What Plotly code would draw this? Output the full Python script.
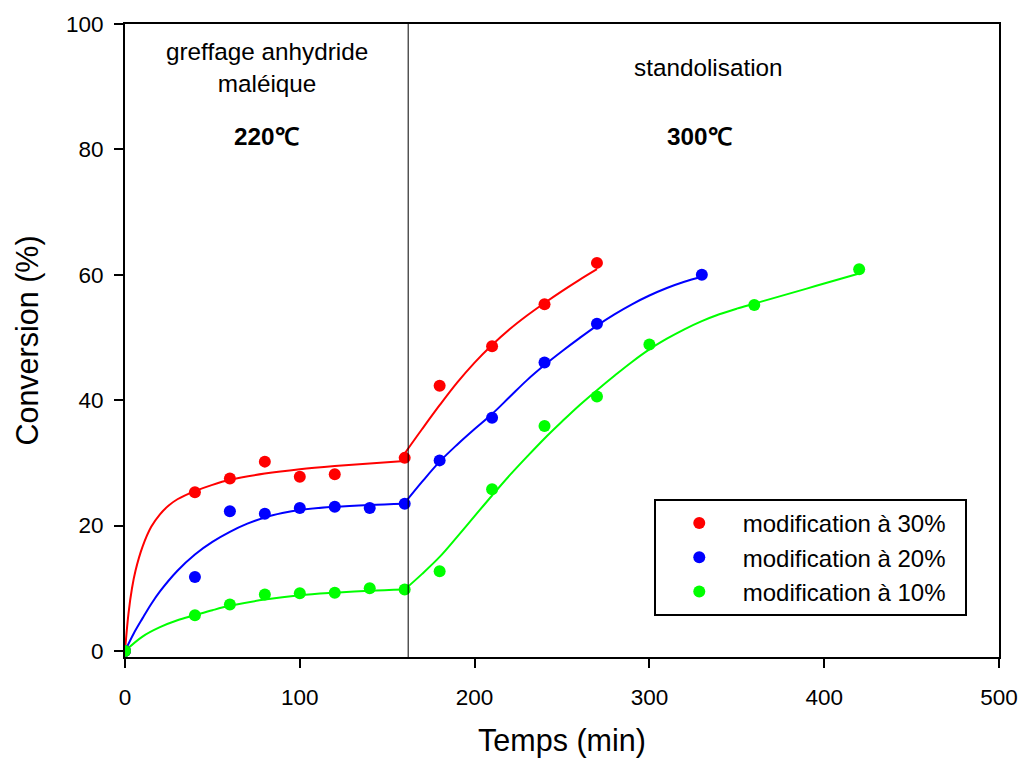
import plotly.graph_objects as go

# measured points (min, %)
t30 = [0, 40, 60, 80, 100, 120, 160, 180, 210, 240, 270]
c30 = [0, 25.3, 27.5, 30.2, 27.8, 28.2, 30.8, 42.3, 48.6, 55.3, 61.9]
t20 = [0, 40, 60, 80, 100, 120, 140, 160, 180, 210, 240, 270, 330]
c20 = [0, 11.8, 22.3, 21.9, 22.8, 23.0, 22.8, 23.5, 30.4, 37.2, 46.0, 52.2, 60.0]
t10 = [0, 40, 60, 80, 100, 120, 140, 160, 180, 210, 240, 270, 300, 360, 420]
c10 = [0, 5.7, 7.4, 9.0, 9.2, 9.3, 10.0, 9.8, 12.7, 25.8, 35.9, 40.6, 48.9, 55.2, 60.9]

# fitted curves, grafting stage then standolisation stage
fit30_a_t = [0, 2, 4, 6, 10, 15, 20, 25, 30, 40, 50, 60, 80, 100, 120, 140, 160]
fit30_a_c = [0, 6.0, 10.0, 12.8, 16.6, 19.8, 21.8, 23.2, 24.2, 25.5, 26.5, 27.3, 28.3, 29.0, 29.5, 29.9, 30.3]
fit30_b_t = [160, 170, 180, 190, 200, 210, 220, 230, 240, 250, 260, 270]
fit30_b_c = [31.5, 35.4, 39.2, 42.8, 46.0, 48.8, 51.3, 53.5, 55.5, 57.4, 59.2, 60.9]

fit20_a_t = [0, 5, 10, 15, 20, 30, 40, 50, 60, 70, 80, 90, 100, 120, 140, 160]
fit20_a_c = [0, 2.8, 5.2, 7.5, 9.5, 12.8, 15.4, 17.4, 19.0, 20.3, 21.3, 22.0, 22.5, 23.0, 23.3, 23.5]
fit20_b_t = [160, 170, 180, 190, 200, 210, 220, 230, 240, 250, 260, 270, 280, 290, 300, 310, 320, 330]
fit20_b_c = [23.6, 27.0, 30.2, 32.9, 35.4, 37.8, 40.5, 43.2, 45.6, 47.8, 49.9, 51.9, 53.7, 55.3, 56.7, 57.9, 58.9, 59.7]

fit10_a_t = [0, 10, 20, 30, 40, 50, 60, 80, 100, 120, 140, 160]
fit10_a_c = [0, 2.3, 3.8, 4.9, 5.7, 6.5, 7.2, 8.2, 8.9, 9.3, 9.6, 9.8]
fit10_b_t = [160, 170, 180, 190, 200, 210, 220, 230, 240, 250, 260, 270, 280, 290, 300,
             310, 320, 330, 340, 350, 360, 370, 380, 390, 400, 410, 420]
fit10_b_c = [9.8, 12.3, 15.0, 18.2, 21.5, 24.8, 28.0, 31.0, 33.9, 36.6, 39.2, 41.6, 43.9, 46.1, 48.1,
             49.8, 51.3, 52.6, 53.7, 54.6, 55.4, 56.2, 57.0, 57.8, 58.6, 59.4, 60.2]

series = [
    ("modification à 30%", "#ff0000", t30, c30, [(fit30_a_t, fit30_a_c), (fit30_b_t, fit30_b_c)]),
    ("modification à 20%", "#0000ff", t20, c20, [(fit20_a_t, fit20_a_c), (fit20_b_t, fit20_b_c)]),
    ("modification à 10%", "#00ff00", t10, c10, [(fit10_a_t, fit10_a_c), (fit10_b_t, fit10_b_c)]),
]

FONT = "Arial, Liberation Sans, sans-serif"
NBSP = "\u00a0"

fig = go.Figure()
for name, color, t, c, fits in series:
    for ft, fc in fits:
        fig.add_trace(go.Scatter(x=ft, y=fc, mode="lines", line=dict(color=color, width=2, shape="spline"),
                                 showlegend=False, hoverinfo="skip"))
for name, color, t, c, fits in series:
    fig.add_trace(go.Scatter(x=t, y=c, mode="markers", name=name + NBSP * 2,
                             marker=dict(color=color, size=12, line=dict(width=0))))

# boundary between the two stages
fig.add_shape(type="line", x0=162, x1=162, y0=0, y1=1, yref="paper", line=dict(color="black", width=1))

ann_font = dict(size=24.3, color="black", family=FONT)
fig.add_annotation(x=81, y=93, text="greffage anhydride<br>maléique", showarrow=False, font=ann_font)
fig.add_annotation(x=81, y=82, text="<b>220℃</b>", showarrow=False, font=ann_font)
fig.add_annotation(x=334, y=93, text="standolisation", showarrow=False, font=ann_font)
fig.add_annotation(x=329, y=82, text="<b>300℃</b>", showarrow=False, font=ann_font)

axis_common = dict(ticks="outside", ticklen=9, tickwidth=1.5, tickcolor="black",
                   tickfont=dict(size=22.5, color="black", family=FONT),
                   showline=True, linecolor="black", linewidth=2, mirror=True,
                   showgrid=False, zeroline=False, automargin=False)
fig.update_xaxes(range=[0, 500], dtick=100, ticklabelstandoff=10, **axis_common,
                 title=dict(text="Temps (min)", font=dict(size=30.5, color="black", family=FONT), standoff=24))
fig.update_yaxes(range=[-0.96, 100], dtick=20, ticklabelstandoff=6, **axis_common,
                 title=dict(text="Conversion (%)", font=dict(size=30.5, color="black", family=FONT), standoff=18))

fig.update_layout(
    width=1021, height=758,
    margin=dict(l=125, r=22, t=24, b=101),
    plot_bgcolor="white", paper_bgcolor="white",
    font=dict(family=FONT, size=22, color="black"),
    legend=dict(x=0.605, y=0.2496, xanchor="left", yanchor="top", bordercolor="black", borderwidth=2,
                bgcolor="white", font=dict(size=24, color="black", family=FONT), itemwidth=77, tracegroupgap=0),
)

# drop the default page margin so the figure fills the window exactly; no modebar
fig.write_html("out.html", config={"displayModeBar": False},
               post_script="document.body.style.margin='0';")
